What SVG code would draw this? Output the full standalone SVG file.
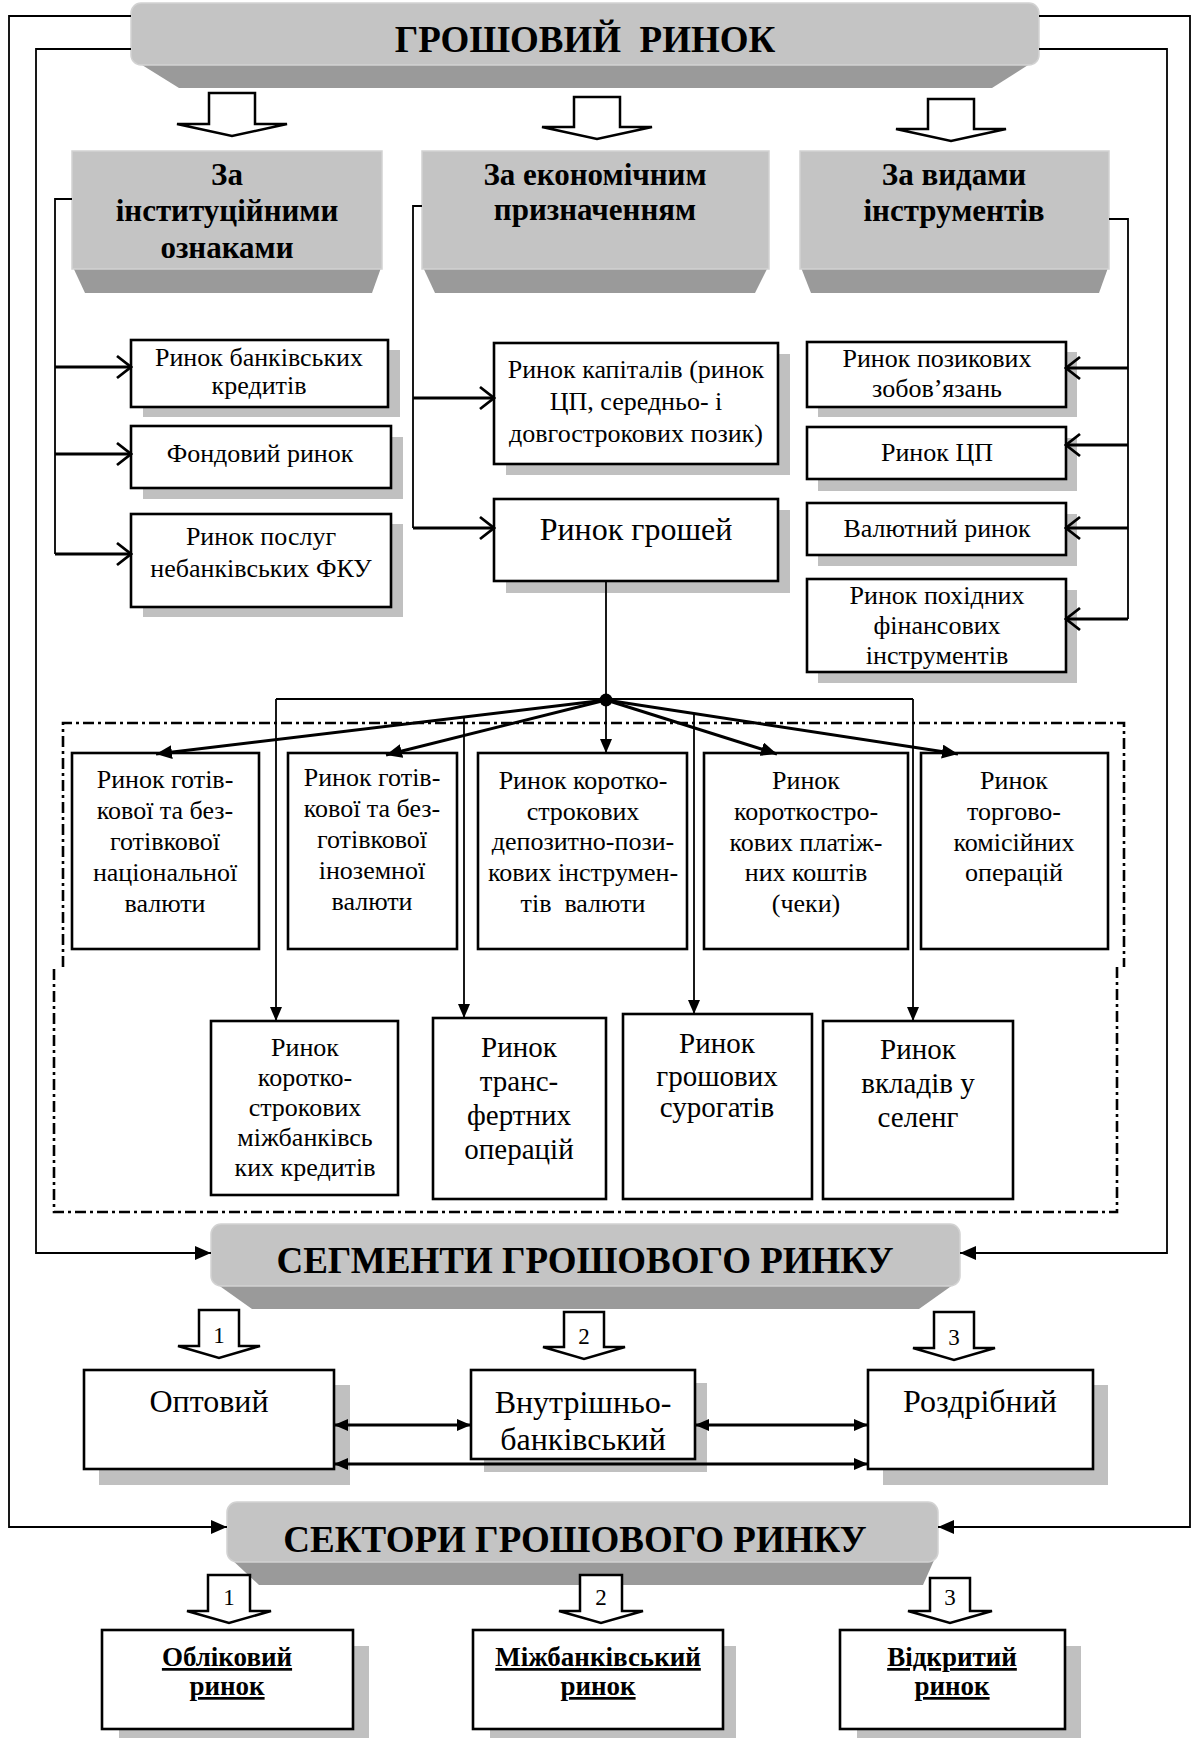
<svg xmlns="http://www.w3.org/2000/svg" width="1194" height="1739" viewBox="0 0 1194 1739">
  <defs>
    <style>
      .face { fill: #c4c4c4; stroke: #d2d2d2; stroke-width: 1.5; }
      .bevel { fill: #9a9a9a; }
      .shadow { fill: #c0c0c0; }
      .box { fill: #ffffff; stroke: #000000; stroke-width: 2.6; }
      .hollow { fill: #ffffff; stroke: #000000; stroke-width: 2.5; stroke-linejoin: miter; }
      .ln { fill: none; stroke: #000000; stroke-width: 1.8; }
      .thk { fill: none; stroke: #000000; stroke-width: 3; }
      .dd { fill: none; stroke: #000000; stroke-width: 2.6; stroke-dasharray: 11 4 3 4; }
      text { font-family: "Liberation Serif", "Times New Roman", serif; fill: #000000; text-anchor: middle; }
      .ttl { font-size: 37px; font-weight: bold; }
      .cat { font-size: 31px; font-weight: bold; }
      .t26 { font-size: 26px; }
      .t29 { font-size: 29px; }
      .t32 { font-size: 32px; }
      .num { font-size: 23px; }
      .sec { font-size: 27px; font-weight: bold; text-decoration: underline; }
    </style>
    <marker id="tri" markerUnits="userSpaceOnUse" viewBox="0 0 16 14" refX="16" refY="7" markerWidth="16" markerHeight="14" orient="auto-start-reverse">
      <path d="M0,0 L16,7 L0,14 Z" fill="#000"/>
    </marker>
    <marker id="triS" markerUnits="userSpaceOnUse" viewBox="0 0 14 12" refX="14" refY="6" markerWidth="14" markerHeight="12" orient="auto-start-reverse">
      <path d="M0,0 L14,6 L0,12 Z" fill="#000"/>
    </marker>
    <marker id="chev" markerUnits="userSpaceOnUse" viewBox="-2 -2 18 26" refX="14" refY="11" markerWidth="18" markerHeight="26" orient="auto">
      <path d="M0,0 L14,11 L0,22" fill="none" stroke="#000" stroke-width="2.8"/>
    </marker>
  </defs>

  <!-- top banner -->
  <g id="money-market">
    <polygon class="bevel" points="134,60 1036,60 992,88 179,88"/>
    <rect class="face" x="131" y="3" width="908" height="62" rx="10"/>
    <text class="ttl" x="585" y="52" xml:space="preserve">ГРОШОВИЙ  РИНОК</text>
  </g>

  <!-- hollow arrows to the classification heads -->
  <g id="arrows-top">
    <polygon class="hollow" points="209,93 255,93 255,124 287,124 232,136 177,124 209,124"/>
    <polygon class="hollow" points="574,97 620,97 620,127 652,127 597,139 542,127 574,127"/>
    <polygon class="hollow" points="928,99 974,99 974,129 1006,129 951,141 896,129 928,129"/>
  </g>

  <!-- classification heads -->
  <g id="by-institution">
    <polygon class="bevel" points="72,265 382,265 372,293 85,293"/>
    <rect class="face" x="72" y="151" width="310" height="118"/>
    <text class="cat" x="227" y="185">За</text>
    <text class="cat" x="227" y="221">інституційними</text>
    <text class="cat" x="227" y="258">ознаками</text>
  </g>
  <g id="by-purpose">
    <polygon class="bevel" points="422,265 769,265 755,293 435,293"/>
    <rect class="face" x="422" y="151" width="347" height="118"/>
    <text class="cat" x="595" y="185">За економічним</text>
    <text class="cat" x="595" y="220">призначенням</text>
  </g>
  <g id="by-instrument">
    <polygon class="bevel" points="800,265 1109,265 1099,293 811,293"/>
    <rect class="face" x="800" y="151" width="309" height="118"/>
    <text class="cat" x="954" y="185">За видами</text>
    <text class="cat" x="954" y="221">інструментів</text>
  </g>

  <!-- institutional column boxes -->
  <g id="bank-credits">
    <rect class="shadow" x="143" y="350" width="257" height="67"/>
    <rect class="box" x="131" y="340" width="257" height="67"/>
    <text class="t26" x="259" y="366">Ринок банківських</text>
    <text class="t26" x="259" y="394">кредитів</text>
  </g>
  <g id="stock-market">
    <rect class="shadow" x="143" y="437" width="260" height="62"/>
    <rect class="box" x="131" y="426" width="260" height="62"/>
    <text class="t26" x="260" y="462">Фондовий ринок</text>
  </g>
  <g id="nonbank-services">
    <rect class="shadow" x="143" y="524" width="260" height="93"/>
    <rect class="box" x="131" y="514" width="260" height="93"/>
    <text class="t26" x="261" y="545">Ринок послуг</text>
    <text class="t26" x="261" y="577">небанківських ФКУ</text>
  </g>

  <!-- economic purpose column boxes -->
  <g id="capital-market">
    <rect class="shadow" x="506" y="354" width="284" height="121"/>
    <rect class="box" x="494" y="343" width="284" height="121"/>
    <text class="t26" x="636" y="378">Ринок капіталів (ринок</text>
    <text class="t26" x="636" y="410">ЦП, середньо- і</text>
    <text class="t26" x="636" y="442">довгострокових позик)</text>
  </g>
  <g id="money-market-box">
    <rect class="shadow" x="506" y="510" width="284" height="83"/>
    <rect class="box" x="494" y="499" width="284" height="82"/>
    <text class="t32" x="636" y="540">Ринок грошей</text>
  </g>

  <!-- instruments column boxes -->
  <g id="loan-obligations">
    <rect class="shadow" x="818" y="352" width="259" height="65"/>
    <rect class="box" x="807" y="342" width="259" height="65"/>
    <text class="t26" x="937" y="367">Ринок позикових</text>
    <text class="t26" x="937" y="397">зобов’язань</text>
  </g>
  <g id="securities">
    <rect class="shadow" x="818" y="438" width="259" height="53"/>
    <rect class="box" x="807" y="427" width="259" height="52"/>
    <text class="t26" x="937" y="461">Ринок ЦП</text>
  </g>
  <g id="currency">
    <rect class="shadow" x="818" y="514" width="259" height="52"/>
    <rect class="box" x="807" y="503" width="259" height="52"/>
    <text class="t26" x="937" y="537">Валютний ринок</text>
  </g>
  <g id="derivatives">
    <rect class="shadow" x="818" y="590" width="259" height="93"/>
    <rect class="box" x="807" y="579" width="259" height="93"/>
    <text class="t26" x="937" y="604">Ринок похідних</text>
    <text class="t26" x="937" y="634">фінансових</text>
    <text class="t26" x="937" y="664">інструментів</text>
  </g>

  <!-- money market segments, first row -->
  <g id="national-currency">
    <rect class="box" x="72" y="753" width="187" height="196"/>
    <text class="t26" x="165" y="788">Ринок готів-</text>
    <text class="t26" x="165" y="819">кової та без-</text>
    <text class="t26" x="165" y="850">готівкової</text>
    <text class="t26" x="165" y="881">національної</text>
    <text class="t26" x="165" y="912">валюти</text>
  </g>
  <g id="foreign-currency">
    <rect class="box" x="288" y="753" width="169" height="196"/>
    <text class="t26" x="372" y="786">Ринок готів-</text>
    <text class="t26" x="372" y="817">кової та без-</text>
    <text class="t26" x="372" y="848">готівкової</text>
    <text class="t26" x="372" y="879">іноземної</text>
    <text class="t26" x="372" y="910">валюти</text>
  </g>
  <g id="deposit-loan">
    <rect class="box" x="478" y="753" width="209" height="196"/>
    <text class="t26" x="583" y="789">Ринок коротко-</text>
    <text class="t26" x="583" y="820">строкових</text>
    <text class="t26" x="583" y="850">депозитно-пози-</text>
    <text class="t26" x="583" y="881">кових інструмен-</text>
    <text class="t26" x="583" y="912" xml:space="preserve">тів  валюти</text>
  </g>
  <g id="payment-means">
    <rect class="box" x="704" y="753" width="204" height="196"/>
    <text class="t26" x="806" y="789">Ринок</text>
    <text class="t26" x="806" y="820">короткостро-</text>
    <text class="t26" x="806" y="851">кових платіж-</text>
    <text class="t26" x="806" y="881">них коштів</text>
    <text class="t26" x="806" y="912">(чеки)</text>
  </g>
  <g id="trade-commission">
    <rect class="box" x="921" y="753" width="187" height="196"/>
    <text class="t26" x="1014" y="789">Ринок</text>
    <text class="t26" x="1014" y="820">торгово-</text>
    <text class="t26" x="1014" y="851">комісійних</text>
    <text class="t26" x="1014" y="881">операцій</text>
  </g>

  <!-- money market segments, second row -->
  <g id="interbank-credits">
    <rect class="box" x="211" y="1021" width="187" height="174"/>
    <text class="t26" x="305" y="1056">Ринок</text>
    <text class="t26" x="305" y="1086">коротко-</text>
    <text class="t26" x="305" y="1116">строкових</text>
    <text class="t26" x="305" y="1146">міжбанківсь</text>
    <text class="t26" x="305" y="1176">ких кредитів</text>
  </g>
  <g id="transfers">
    <rect class="box" x="433" y="1018" width="173" height="181"/>
    <text class="t29" x="519" y="1057">Ринок</text>
    <text class="t29" x="519" y="1091">транс-</text>
    <text class="t29" x="519" y="1125">фертних</text>
    <text class="t29" x="519" y="1159">операцій</text>
  </g>
  <g id="surrogates">
    <rect class="box" x="623" y="1014" width="189" height="185"/>
    <text class="t29" x="717" y="1053">Ринок</text>
    <text class="t29" x="717" y="1086">грошових</text>
    <text class="t29" x="717" y="1117">сурогатів</text>
  </g>
  <g id="selling-deposits">
    <rect class="box" x="823" y="1021" width="190" height="178"/>
    <text class="t29" x="918" y="1059">Ринок</text>
    <text class="t29" x="918" y="1093">вкладів у</text>
    <text class="t29" x="918" y="1127">селенг</text>
  </g>

  <!-- segments banner -->
  <g id="segments">
    <polygon class="bevel" points="214,1282 957,1282 919,1309 252,1309"/>
    <rect class="face" x="211" y="1224" width="749" height="62" rx="10"/>
    <text class="ttl" x="585" y="1273">СЕГМЕНТИ ГРОШОВОГО РИНКУ</text>
  </g>
  <g id="arrows-segments">
    <polygon class="hollow" points="199,1310 239,1310 239,1346 260,1346 219,1358 178,1346 199,1346"/>
    <polygon class="hollow" points="564,1312 604,1312 604,1347 625,1347 584,1359 543,1347 564,1347"/>
    <polygon class="hollow" points="934,1312 974,1312 974,1348 995,1348 954,1360 913,1348 934,1348"/>
    <text class="num" x="219" y="1343">1</text>
    <text class="num" x="584" y="1344">2</text>
    <text class="num" x="954" y="1345">3</text>
  </g>
  <g id="wholesale">
    <rect class="shadow" x="99" y="1385" width="251" height="100"/>
    <rect class="box" x="84" y="1370" width="250" height="99"/>
    <text class="t32" x="209" y="1412">Оптовий</text>
  </g>
  <g id="intrabank">
    <rect class="shadow" x="484" y="1383" width="223" height="89"/>
    <rect class="box" x="471" y="1370" width="224" height="89"/>
    <text class="t32" x="583" y="1413">Внутрішньо-</text>
    <text class="t32" x="583" y="1450">банківський</text>
  </g>
  <g id="retail">
    <rect class="shadow" x="883" y="1385" width="225" height="100"/>
    <rect class="box" x="868" y="1370" width="225" height="99"/>
    <text class="t32" x="980" y="1412">Роздрібний</text>
  </g>

  <!-- sectors banner -->
  <g id="sectors">
    <polygon class="bevel" points="230,1558 935,1558 923,1585 259,1585"/>
    <rect class="face" x="227" y="1502" width="711" height="60" rx="10"/>
    <text class="ttl" x="575" y="1552">СЕКТОРИ ГРОШОВОГО РИНКУ</text>
  </g>
  <g id="arrows-sectors">
    <polygon class="hollow" points="208,1575 250,1575 250,1611 271,1611 229,1623 187,1611 208,1611"/>
    <polygon class="hollow" points="580,1575 622,1575 622,1611 643,1611 601,1623 559,1611 580,1611"/>
    <polygon class="hollow" points="930,1578 970,1578 970,1611 992,1611 950,1623 908,1611 930,1611"/>
    <text class="num" x="229" y="1605">1</text>
    <text class="num" x="601" y="1605">2</text>
    <text class="num" x="950" y="1605">3</text>
  </g>
  <g id="discount">
    <rect class="shadow" x="119" y="1646" width="250" height="92"/>
    <rect class="box" x="102" y="1630" width="251" height="99"/>
    <text class="sec" x="227" y="1666">Обліковий</text>
    <text class="sec" x="227" y="1695">ринок</text>
  </g>
  <g id="interbank">
    <rect class="shadow" x="490" y="1646" width="246" height="92"/>
    <rect class="box" x="473" y="1630" width="250" height="99"/>
    <text class="sec" x="598" y="1666">Міжбанківський</text>
    <text class="sec" x="598" y="1695">ринок</text>
  </g>
  <g id="open-market">
    <rect class="shadow" x="857" y="1646" width="224" height="92"/>
    <rect class="box" x="840" y="1630" width="225" height="99"/>
    <text class="sec" x="952" y="1666">Відкритий</text>
    <text class="sec" x="952" y="1695">ринок</text>
  </g>

  <!-- connectors, drawn over the node shadows -->
  <g id="connectors">
    <!-- outer loops to the segment / sector banners -->
    <path class="ln" d="M131,16 H9 V1527 H227" marker-end="url(#tri)"/>
    <path class="ln" d="M1039,16 H1190 V1527 H938" marker-end="url(#tri)"/>
    <path class="ln" d="M131,49 H36 V1253 H211" marker-end="url(#tri)"/>
    <path class="ln" d="M1039,49 H1167 V1253 H960" marker-end="url(#tri)"/>

    <!-- institutional column -->
    <path class="ln" d="M72,199 H55 V554"/>
    <path class="thk" d="M55,367 H131" marker-end="url(#chev)"/>
    <path class="thk" d="M55,454 H131" marker-end="url(#chev)"/>
    <path class="thk" d="M55,554 H131" marker-end="url(#chev)"/>

    <!-- economic purpose column -->
    <path class="ln" d="M422,206 H413 V528"/>
    <path class="thk" d="M413,398 H494" marker-end="url(#chev)"/>
    <path class="thk" d="M413,528 H494" marker-end="url(#chev)"/>

    <!-- instruments column -->
    <path class="ln" d="M1109,219 H1128 V619"/>
    <path class="thk" d="M1128,368 H1066" marker-end="url(#chev)"/>
    <path class="thk" d="M1128,445 H1066" marker-end="url(#chev)"/>
    <path class="thk" d="M1128,528 H1066" marker-end="url(#chev)"/>
    <path class="thk" d="M1128,619 H1066" marker-end="url(#chev)"/>

    <!-- money market fan-out -->
    <path class="ln" d="M606,581 V700"/>
    <path class="ln" d="M276,699 H913"/>
    <path class="ln" d="M276,699 V1021" marker-end="url(#triS)"/>
    <path class="ln" d="M913,699 V1021" marker-end="url(#triS)"/>
    <path class="ln" d="M464,717 V1018" marker-end="url(#triS)"/>
    <path class="ln" d="M694,713 V1014" marker-end="url(#triS)"/>
    <path class="thk" d="M606,700 L156,754" marker-end="url(#tri)"/>
    <path class="thk" d="M606,700 L386,755" marker-end="url(#tri)"/>
    <path class="ln" d="M606,700 V753" marker-end="url(#triS)"/>
    <path class="thk" d="M606,700 L777,754" marker-end="url(#tri)"/>
    <path class="thk" d="M606,700 L958,754" marker-end="url(#tri)"/>
    <circle cx="606" cy="700" r="6.5" fill="#000"/>

    <!-- dash-dot frame around money market segments -->
    <path class="dd" d="M63,967 V723 H1124 V967"/>
    <path class="dd" d="M1117,967 V1212 H54 V967"/>

    <!-- links between segment boxes -->
    <path class="thk" d="M334,1425 H471" marker-start="url(#triS)" marker-end="url(#triS)"/>
    <path class="thk" d="M695,1425 H868" marker-start="url(#triS)" marker-end="url(#triS)"/>
    <path class="thk" d="M334,1464 H868" marker-start="url(#triS)" marker-end="url(#triS)"/>
  </g>
</svg>
